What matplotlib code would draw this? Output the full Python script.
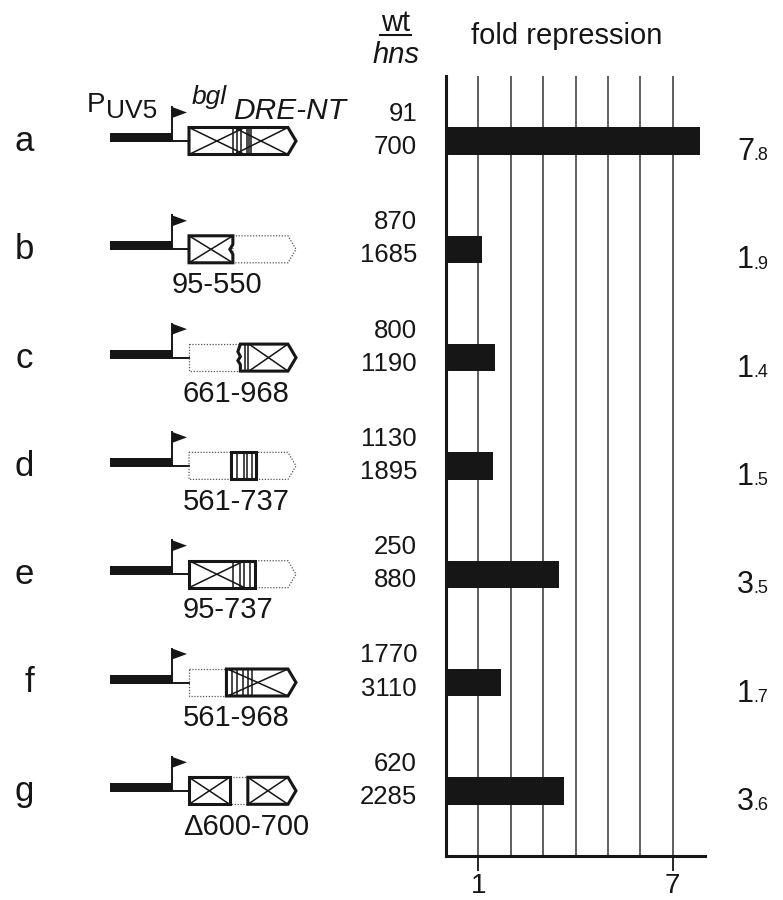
import matplotlib
matplotlib.use("Agg")
import matplotlib.pyplot as plt
from matplotlib.patches import Polygon, Rectangle

plt.rcParams["font.family"] = ["Liberation Sans", "DejaVu Sans"]

# ── data ────────────────────────────────────────────────────────────────────
ROWS = ["a", "b", "c", "d", "e", "f", "g"]
WT = [91, 870, 800, 1130, 250, 1770, 620]
HNS = [700, 1685, 1190, 1895, 880, 3110, 2285]
FOLD_LABEL = ["7.8", "1.9", "1.4", "1.5", "3.5", "1.7", "3.6"]
BAR_LEN = [7.84, 1.1, 1.5, 1.45, 3.5, 1.7, 3.63]   # bar lengths as drawn
REGION = ["", "95-550", "661-968", "561-737", "95-737", "561-968", "\u0394600-700"]
X_TICKS = [1, 7]

# construct layout: solid parts (u0, u1, jagged_left, jagged_right),
# dotted parts, crossed spans and stripe positions, in gene fractions
CONSTRUCTS = [
    dict(solid=[(0, 1, False, False)], dotted=[],
         cross=[(0, 0.52), (0.42, 0.925)],
         stripes=[0.41, 0.45, 0.49, 0.54, 0.56, 0.58]),
    dict(solid=[(0, 0.41, False, True)], dotted=[(0.41, 1)],
         cross=[(0, 0.41)], stripes=[]),
    dict(solid=[(0.48, 1, True, False)], dotted=[(0, 0.48)],
         cross=[(0.56, 0.925)], stripes=[0.52, 0.55]),
    dict(solid=[(0.39, 0.63, False, False)], dotted=[(0, 1)],
         cross=[], stripes=[0.45, 0.51, 0.54, 0.59]),
    dict(solid=[(0, 0.62, False, False)], dotted=[(0.62, 1)],
         cross=[(0, 0.52)], stripes=[0.41, 0.48, 0.51, 0.57]),
    dict(solid=[(0.35, 1, False, False)], dotted=[(0, 0.35)],
         cross=[(0.36, 0.925)], stripes=[0.40, 0.45, 0.50, 0.55, 0.59]),
    dict(solid=[(0, 0.38, False, False), (0.55, 1, False, False)],
         dotted=[(0.38, 0.55)], cross=[(0, 0.38), (0.55, 0.925)], stripes=[]),
]

# ── layout (pixels) ─────────────────────────────────────────────────────────
W, H = 783, 900
ROW0, STEP = 141, 108.3
GENE_X0, GENE_X1, TIP_U = 189, 296, 0.925
BOX_H = 27
INK = "#161616"
REGION_X = [183, 172, 183, 183, 183, 183, 183]
LETTER_X = [24, 24, 24, 24, 24, 29, 24]

fig = plt.figure(figsize=(W / 100, H / 100), dpi=100)
fig.patch.set_facecolor("white")

ov = fig.add_axes([0, 0, 1, 1])
ov.set_xlim(0, W)
ov.set_ylim(H, 0)
ov.axis("off")


def gx(u):
    return GENE_X0 + u * (GENE_X1 - GENE_X0)


def outline(u0, u1, yc, jag_l=False, jag_r=False):
    top, bot = yc - BOX_H / 2, yc + BOX_H / 2
    x0, x1 = gx(u0), gx(u1)
    pts = [(x0, top)]
    if u1 >= 1:
        pts += [(gx(TIP_U), top), (x1, yc), (gx(TIP_U), bot)]
    else:
        pts += [(x1, top)]
        if jag_r:
            pts += [(x1, yc - 5), (x1 - 3, yc), (x1, yc + 5)]
        pts += [(x1, bot)]
    pts += [(x0, bot)]
    if jag_l:
        pts += [(x0, yc + 7), (x0 - 2.5, yc + 3), (x0, yc - 1), (x0 - 2.5, yc - 6)]
    return pts


row_y = [ROW0 + i * STEP for i in range(len(ROWS))]

for i, (yc, spec) in enumerate(zip(row_y, CONSTRUCTS)):
    top, bot = yc - BOX_H / 2, yc + BOX_H / 2

    # promoter, start site and flag
    ov.add_patch(Rectangle((110, yc - 8), 62, 9, fc=INK, ec="none"))
    ov.plot([172, GENE_X0], [yc, yc], color=INK, lw=1.4)
    ov.plot([172, 172], [yc, yc - 34], color=INK, lw=1.4)
    ov.add_patch(Polygon([(172, yc - 34), (187, yc - 28.5), (172, yc - 23)],
                         closed=True, fc=INK, ec="none"))

    for u0, u1 in spec["dotted"]:
        ov.add_patch(Polygon(outline(u0, u1, yc), closed=True, fill=False,
                             ec="#555555", lw=0.9, ls=(0, (1, 1.3)), zorder=2))

    for u0, u1, jl, jr in spec["solid"]:
        box = Polygon(outline(u0, u1, yc, jl, jr), closed=True, fc="white",
                      ec=INK, lw=2.2, joinstyle="miter", zorder=3)
        ov.add_patch(box)
        for a, b in spec["cross"]:
            if a >= u0 - 0.01 and b <= u1 + 0.01:
                for ya, yb in ((top, bot), (bot, top)):
                    ln, = ov.plot([gx(a), gx(b)], [ya, yb], color=INK, lw=1.1, zorder=4)
                    ln.set_clip_path(box)
        for s in spec["stripes"]:
            if u0 <= s <= u1:
                ln, = ov.plot([gx(s), gx(s)], [top, bot], color=INK, lw=1.1, zorder=4)
                ln.set_clip_path(box)

    # row letter, region label, wt / hns numbers, fold value
    ov.text(LETTER_X[i], yc + 10, ROWS[i], ha="center", va="baseline",
            fontsize=25, color=INK)
    if REGION[i]:
        ov.text(REGION_X[i], yc + 44, REGION[i], ha="left", va="baseline",
                fontsize=21, color=INK)
    ov.text(417, yc - 20, str(WT[i]), ha="right", va="baseline",
            fontsize=18.5, color=INK)
    ov.text(417, yc + 13, str(HNS[i]), ha="right", va="baseline",
            fontsize=18.5, color=INK)
    whole, dec = FOLD_LABEL[i].split(".")
    t = ov.text(737, yc + 19, whole, ha="left", va="baseline",
                fontsize=22, color=INK)
    ov.annotate("." + dec, xy=(1, 0), xycoords=t, xytext=(-0.5, 2),
                textcoords="offset points", ha="left", va="bottom",
                fontsize=13, color=INK)

# header texts
ov.text(87, 112, "P", fontsize=20, color=INK, ha="left", va="baseline")
ov.text(106, 118, "UV5", fontsize=19, color=INK, ha="left", va="baseline")
ov.text(192, 104, "bgl", fontsize=19, style="italic", color=INK,
        ha="left", va="baseline")
ov.text(233, 119, "DRE-NT", fontsize=21.5, style="italic", color=INK,
        ha="left", va="baseline")
ov.text(396, 31, "wt", fontsize=21, color=INK, ha="center", va="baseline")
ov.plot([380, 411], [35, 35], color=INK, lw=1.5)
ov.text(396, 63, "hns", fontsize=21, style="italic", color=INK,
        ha="center", va="baseline")
ov.text(567, 44, "fold repression", fontsize=21, color=INK,
        ha="center", va="baseline")

# ── bar chart ───────────────────────────────────────────────────────────────
ax = fig.add_axes([446 / W, 1 - 856 / H, (705 - 446) / W, (856 - 76) / H])
ax.patch.set_alpha(0)
ax.set_xlim(0, 8)
ax.set_ylim(len(ROWS) - 1 + 0.6, -0.6)
ax.vlines(range(1, 8), -0.6, len(ROWS) - 1 + 0.6, color="#333333", lw=1.1, zorder=1)
ax.barh(range(len(ROWS)), BAR_LEN, height=0.25, color=INK, zorder=2)

for side in ("top", "right"):
    ax.spines[side].set_visible(False)
for side in ("left", "bottom"):
    ax.spines[side].set_linewidth(2.2)
    ax.spines[side].set_color(INK)
ax.set_yticks([])
ax.set_xticks(X_TICKS)
ax.set_xticklabels([str(v) for v in X_TICKS])
ax.tick_params(axis="x", length=11, width=1.3, color=INK, labelsize=20,
               pad=1, labelcolor=INK)

plt.savefig("out.png", dpi=100)
plt.close()
